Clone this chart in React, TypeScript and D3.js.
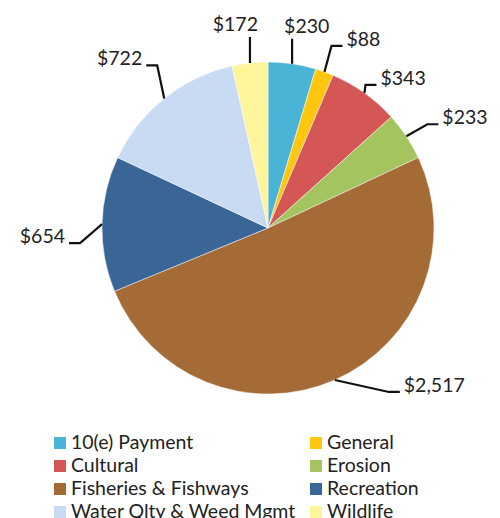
import { useEffect, useRef } from 'react';
import * as d3 from 'd3';

const categories = [
  '10(e) Payment',
  'General',
  'Cultural',
  'Erosion',
  'Fisheries & Fishways',
  'Recreation',
  'Water Qlty & Weed Mgmt',
  'Wildlife',
];
const values = [230, 88, 343, 233, 2517, 654, 722, 172];
const colors = ['#4bb4d6', '#fec60f', '#d45756', '#a4c45f', '#a56b37', '#3a6697', '#c8dbf3', '#fff69b'];

// leader line layout: elbow offset from the slice edge, and which way the label sits
const labelElbow: [number, number][] = [
  [0, -25], [7, -26], [1, -8], [21, -12], [54, 12], [-22, 19], [-7, -33], [0, -26],
];
const labelSide = ['up-right', 'right', 'right', 'right', 'right', 'left', 'left', 'up-left'];

const fmt = d3.format('$,');

export default function App() {
  const svgRef = useRef<SVGSVGElement>(null);

  useEffect(() => {
    if (!svgRef.current) return;
    const svg = d3.select(svgRef.current);
    svg.selectAll('*').remove();

    const cx = 268;
    const cy = 228;
    const r = 166;
    const font = 'Lato, "Open Sans", sans-serif';

    const pie = d3.pie<number>().sort(null).value((d) => d);
    const arcs = pie(values);
    const arc = d3.arc<d3.PieArcDatum<number>>().innerRadius(0).outerRadius(r);

    const g = svg.append('g').attr('transform', `translate(${cx},${cy})`);

    g.selectAll('path.slice')
      .data(arcs)
      .enter()
      .append('path')
      .attr('class', 'slice')
      .attr('d', arc)
      .attr('fill', (_, i) => colors[i])
      .attr('stroke', '#ffffff')
      .attr('stroke-opacity', 0.6)
      .attr('stroke-width', 0.8);

    // data labels with leader lines
    arcs.forEach((a, i) => {
      const mid = (a.startAngle + a.endAngle) / 2;
      const sx = Math.sin(mid) * r;
      const sy = -Math.cos(mid) * r;
      const ex = sx + labelElbow[i][0];
      const ey = sy + labelElbow[i][1];
      const side = labelSide[i];
      const pts: [number, number][] = [[sx, sy], [ex, ey]];
      let tx = ex;
      let ty = ey;
      let anchor = 'start';
      if (side === 'right') {
        pts.push([ex + 11, ey]);
        tx = ex + 15;
      } else if (side === 'left') {
        pts.push([ex - 11, ey]);
        tx = ex - 15;
        anchor = 'end';
      } else if (side === 'up-right') {
        tx = ex - 8;
        ty = ey - 6;
      } else {
        tx = ex + 8;
        ty = ey - 6;
        anchor = 'end';
      }
      g.append('path')
        .attr('d', d3.line()(pts))
        .attr('fill', 'none')
        .attr('stroke', '#111')
        .attr('stroke-width', 2.2);
      g.append('text')
        .attr('x', tx)
        .attr('y', ty)
        .attr('text-anchor', anchor)
        .attr('font-family', font)
        .attr('font-size', 19.5)
        .attr('fill', '#222')
        .text(fmt(values[i]));
    });

    // legend, two columns
    const legend = svg.append('g');
    const colX = [54, 310];
    const rowY = d3.range(4).map((k) => 449 + k * 23);
    categories.forEach((c, i) => {
      const x = colX[i % 2];
      const y = rowY[Math.floor(i / 2)];
      legend
        .append('rect')
        .attr('x', x)
        .attr('y', y - 12)
        .attr('width', 12)
        .attr('height', 12)
        .attr('fill', colors[i]);
      legend
        .append('text')
        .attr('x', x + 17)
        .attr('y', y)
        .attr('font-family', font)
        .attr('font-size', 19.5)
        .attr('fill', '#222')
        .text(c);
    });
  }, []);

  return (
    <svg
      ref={svgRef}
      width={500}
      height={518}
      style={{ position: 'absolute', left: 0, top: 0, background: '#fff' }}
    />
  );
}
